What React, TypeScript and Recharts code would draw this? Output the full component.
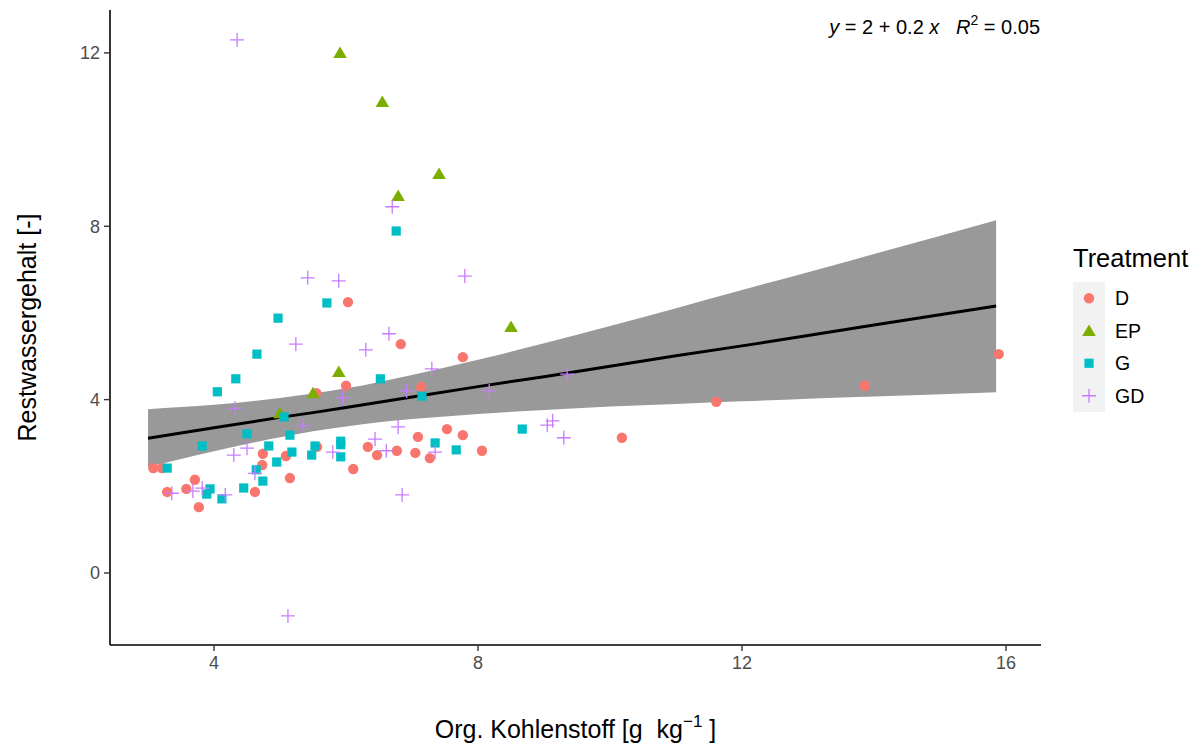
import React from 'react';
import { ComposedChart, XAxis, YAxis, Scatter, Line, Area, Label, Customized } from 'recharts';

// Treatment D
const dX = [3.08, 3.21, 3.29, 3.58, 3.71, 3.77, 4.62, 4.74, 4.73, 5.09, 5.15, 5.56, 5.55, 6.0, 6.03, 6.11, 6.33, 6.47, 6.77, 6.83, 7.05, 7.09, 7.14, 7.27, 7.53, 7.77, 7.77, 8.06, 10.18, 11.61, 13.86, 15.89];
const dY = [2.42, 2.42, 1.87, 1.94, 2.15, 1.52, 1.87, 2.75, 2.49, 2.7, 2.19, 2.91, 4.15, 4.32, 6.25, 2.4, 2.91, 2.72, 2.82, 5.28, 2.77, 3.14, 4.29, 2.65, 3.32, 3.18, 4.98, 2.82, 3.12, 3.95, 4.32, 5.05];

// Treatment EP
const epX = [5.0, 5.5, 5.89, 5.91, 6.55, 6.79, 7.41, 8.5];
const epY = [3.69, 4.15, 4.64, 12.0, 10.87, 8.7, 9.21, 5.68];

// Treatment G
const gX = [3.29, 3.82, 3.94, 3.89, 4.12, 4.45, 4.5, 4.64, 4.74, 4.83, 4.95, 5.06, 5.15, 5.18, 5.53, 5.48, 5.92, 5.92, 5.92, 7.35, 7.67, 8.67, 6.52, 7.15, 5.71, 4.05, 4.33, 4.65, 4.97, 6.76];
const gY = [2.42, 2.93, 1.94, 1.82, 1.71, 1.96, 3.21, 2.38, 2.12, 2.93, 2.56, 3.6, 3.18, 2.79, 2.93, 2.72, 3.04, 2.96, 2.68, 3.0, 2.84, 3.32, 4.48, 4.08, 6.23, 4.18, 4.48, 5.05, 5.88, 7.89];

// Treatment GD
const gdX = [4.35, 5.42, 5.89, 7.8, 6.7, 5.24, 6.65, 6.3, 7.3, 6.92, 5.95, 4.32, 8.17, 9.35, 9.05, 9.13, 9.3, 5.35, 6.79, 6.44, 6.61, 5.8, 7.35, 6.85, 4.5, 4.3, 4.62, 3.36, 3.68, 3.82, 4.17, 5.12];
const gdY = [12.3, 6.81, 6.74, 6.85, 8.45, 5.28, 5.52, 5.15, 4.71, 4.2, 4.04, 3.8, 4.2, 4.59, 3.41, 3.51, 3.12, 3.4, 3.37, 3.09, 2.82, 2.79, 2.79, 1.8, 2.88, 2.72, 2.3, 1.84, 1.89, 1.96, 1.8, -0.99];

// Linear fit with 95% confidence band
const fitX = [3.0, 3.5, 4, 5, 5.5, 6, 7, 8, 9, 10, 11, 12, 13, 14, 15.85];
const fitY = [3.11, 3.23, 3.35, 3.59, 3.7, 3.82, 4.06, 4.3, 4.53, 4.77, 5.01, 5.24, 5.48, 5.72, 6.16];
const fitLow = [2.45, 2.63, 2.81, 3.13, 3.27, 3.38, 3.55, 3.67, 3.76, 3.84, 3.9, 3.96, 4.02, 4.07, 4.17];
const fitHigh = [3.78, 3.83, 3.88, 4.04, 4.14, 4.26, 4.57, 4.92, 5.3, 5.7, 6.11, 6.53, 6.94, 7.36, 8.14];

const xTicks = [4, 8, 12, 16];
const yTicks = [0, 4, 8, 12];

const treatments = ['D', 'EP', 'G', 'GD'];
const colors = ['#F8766D', '#7CAE00', '#00BFC4', '#C77CFF'];

const FONT = '"Liberation Sans", Arial, sans-serif';

const toPoints = (xs: number[], ys: number[]) => xs.map((x, i) => ({ x, y: ys[i] }));
const bandData = fitX.map((x, i) => ({ x, fit: fitY[i], band: [fitLow[i], fitHigh[i]] }));

const marker = (kind: number, cx: number, cy: number, color: string) => {
  if (kind === 0) return <circle cx={cx} cy={cy} r={5.2} fill={color} />;
  if (kind === 1)
    return <path d={`M${cx},${cy - 6.3}L${cx + 6.8},${cy + 5.2}L${cx - 6.8},${cy + 5.2}Z`} fill={color} />;
  if (kind === 2) return <rect x={cx - 4.6} y={cy - 4.6} width={9.2} height={9.2} fill={color} />;
  return (
    <path
      d={`M${cx - 7},${cy}H${cx + 7}M${cx},${cy - 7}V${cy + 7}`}
      stroke={color}
      strokeWidth={1.3}
      fill="none"
    />
  );
};

const shapeFor = (kind: number) => (props: any) => {
  const { cx, cy } = props;
  if (cx == null || cy == null) return <g />;
  return marker(kind, cx, cy, colors[kind]);
};

const Overlay = () => (
  <g fontFamily={FONT}>
    <text x={1040} y={34} fontSize={20} textAnchor="end" fill="#000" style={{ whiteSpace: 'pre' }}>
      <tspan fontStyle="italic">y</tspan>
      <tspan> = 2 + 0.2 </tspan>
      <tspan fontStyle="italic">x</tspan>
      <tspan>{'   '}</tspan>
      <tspan fontStyle="italic">R</tspan>
      <tspan fontSize={14} dy={-9}>2</tspan>
      <tspan dy={9}> = 0.05</tspan>
    </text>
    <text x={1073} y={267} fontSize={25.5} fill="#000">Treatment</text>
    <rect x={1073} y={282} width={32} height={130} fill="#F2F2F2" />
    {treatments.map((t, i) => {
      const cy = 298.25 + i * 32.5;
      return (
        <g key={t}>
          {marker(i, 1089, cy, colors[i])}
          <text x={1115} y={cy + 7} fontSize={19.5} fill="#000">{t}</text>
        </g>
      );
    })}
  </g>
);

const XTitle = (props: any) => {
  const vb = props.viewBox || { x: 110, y: 645, width: 931 };
  const cx = vb.x + vb.width / 2;
  return (
    <text x={cx} y={738} textAnchor="middle" fontSize={25} fontFamily={FONT} fill="#000" style={{ whiteSpace: 'pre' }}>
      <tspan>Org. Kohlenstoff [g  kg</tspan>
      <tspan fontSize={17} dy={-11}>−1</tspan>
      <tspan dy={11}> ]</tspan>
    </text>
  );
};

const YTitle = (props: any) => {
  const vb = props.viewBox || { x: 50, y: 10, height: 635 };
  const cy = vb.y + vb.height / 2;
  return (
    <text
      x={27}
      y={cy}
      transform={`rotate(-90, 27, ${cy})`}
      textAnchor="middle"
      dominantBaseline="central"
      fontSize={25}
      fontFamily={FONT}
      fill="#000"
    >
      Restwassergehalt [-]
    </text>
  );
};

export default function App() {
  const tickStyle = { fontSize: 18, fill: '#4D4D4D', fontFamily: FONT };
  return (
    <div style={{ position: 'absolute', left: 0, top: 0, width: 1201, height: 749, background: '#fff' }}>
      <ComposedChart
        width={1201}
        height={749}
        data={bandData}
        margin={{ top: 10, right: 160, bottom: 44, left: 50 }}
      >
        <XAxis
          type="number"
          dataKey="x"
          domain={[2.424, 16.53]}
          allowDataOverflow
          ticks={xTicks}
          height={60}
          tick={tickStyle}
          tickSize={6}
          tickMargin={5}
          axisLine={{ stroke: '#000', strokeWidth: 1.6 }}
          tickLine={{ stroke: '#333', strokeWidth: 1.4 }}
        >
          <Label content={<XTitle />} />
        </XAxis>
        <YAxis
          type="number"
          domain={[-1.662, 12.99]}
          allowDataOverflow
          ticks={yTicks}
          width={60}
          tick={tickStyle}
          tickSize={6}
          tickMargin={4}
          axisLine={{ stroke: '#000', strokeWidth: 1.6 }}
          tickLine={{ stroke: '#333', strokeWidth: 1.4 }}
        >
          <Label content={<YTitle />} />
        </YAxis>
        <Area
          dataKey="band"
          type="monotone"
          fill="#999999"
          fillOpacity={1}
          stroke="none"
          isAnimationActive={false}
          activeDot={false}
        />
        <Line
          dataKey="fit"
          type="linear"
          stroke="#000"
          strokeWidth={3}
          dot={false}
          activeDot={false}
          isAnimationActive={false}
        />
        <Scatter name="D" data={toPoints(dX, dY)} dataKey="y" shape={shapeFor(0)} isAnimationActive={false} />
        <Scatter name="EP" data={toPoints(epX, epY)} dataKey="y" shape={shapeFor(1)} isAnimationActive={false} />
        <Scatter name="G" data={toPoints(gX, gY)} dataKey="y" shape={shapeFor(2)} isAnimationActive={false} />
        <Scatter name="GD" data={toPoints(gdX, gdY)} dataKey="y" shape={shapeFor(3)} isAnimationActive={false} />
        <Customized component={Overlay} />
      </ComposedChart>
    </div>
  );
}
